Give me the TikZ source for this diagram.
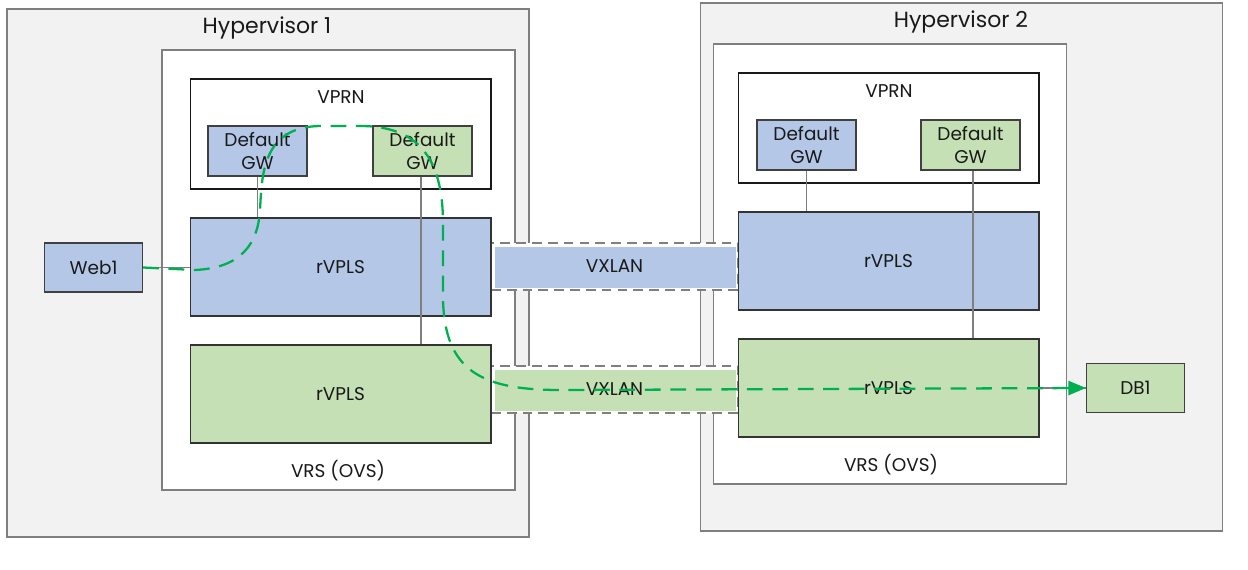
\documentclass[tikz,border=0pt]{standalone}
\usepackage{fontspec}
\setmainfont{Poppins}
\usetikzlibrary{arrows.meta}
\definecolor{hvgray}{HTML}{F2F2F2}
\definecolor{bordergray}{HTML}{7F7F7F}
\definecolor{vblue}{HTML}{B4C7E7}
\definecolor{vgreen}{HTML}{C5E0B4}
\definecolor{pathgreen}{HTML}{00B050}

\begin{document}
\begin{tikzpicture}[x=0.02cm,y=-0.02cm,>={Triangle[length=10pt,width=8pt]},
	every node/.style={font=\fontsize{10.5}{13.5}\selectfont,text=black!90},
	title/.style={font=\fontsize{12.5}{14}\selectfont},
	hv node/.style={draw=bordergray,fill=hvgray,line width=0.7pt,minimum width=10.44cm,minimum height=10.56cm,inner sep=0pt},
	vrs node/.style={draw=bordergray,fill=white,line width=0.7pt,minimum width=7.06cm,minimum height=8.8cm,inner sep=0pt},
	vprn node/.style={draw=black!90,fill=white,line width=0.6pt,minimum width=6.02cm,minimum height=2.2cm,inner sep=0pt},
	gw node/.style={draw=black!75,line width=0.6pt,minimum width=1.98cm,minimum height=1cm,inner sep=0pt,align=center},
	vpls node/.style={draw=black!80,line width=0.6pt,minimum width=6.02cm,minimum height=1.96cm,inner sep=0pt},
	vm node/.style={draw=black!75,line width=0.6pt,minimum width=1.96cm,minimum height=0.98cm,inner sep=0pt},
	tunnel/.style={draw=bordergray,fill=white,line width=0.7pt,dash pattern=on 5.5pt off 3.5pt,
		minimum width=4.94cm,minimum height=0.94cm,inner sep=0pt,
		path picture={\fill[#1] ([shift={(0.08cm,0.04cm)}]path picture bounding box.south west)
			rectangle ([shift={(-0.04cm,-0.08cm)}]path picture bounding box.north east);}},
	link/.style={draw=bordergray,line width=0.9pt},
	flow/.style={draw=pathgreen,line width=1.3pt,dash pattern=on 9pt off 5.5pt}]

	\useasboundingbox (0,0) rectangle (1248,570);

	\node[hv node] (hv1) at (268,273) {};
	\node[hv node] (hv2) at (961.5,267) {};
	\node[title] (hv1 title) at (267,28) {Hypervisor 1};
	\node[title] (hv2 title) at (961,22) {Hypervisor 2};

	\node[vrs node] (vrs1) at (338.5,270) {};
	\node[vrs node] (vrs2) at (890,264) {};
	\node (vrs1 label) at (338,471) {VRS (OVS)};
	\node (vrs2 label) at (891,465) {VRS (OVS)};

	\node[vprn node] (vprn1) at (340.5,134) {};
	\node[vprn node] (vprn2) at (888.5,128) {};
	\node (vprn1 label) at (341,97) {VPRN};
	\node (vprn2 label) at (889,91) {VPRN};

	\node[gw node,fill=vblue] (gwb1) at (257.5,151) {Default\\GW};
	\node[gw node,fill=vgreen] (gwg1) at (422.5,151) {Default\\GW};
	\node[gw node,fill=vblue] (gwb2) at (806.5,145) {Default\\GW};
	\node[gw node,fill=vgreen] (gwg2) at (970.5,145) {Default\\GW};

	\node[tunnel=vblue] (vxb) at (614.5,266.5) {VXLAN};
	\node[tunnel=vgreen] (vxg) at (614.5,389.5) {VXLAN};

	\node[vpls node,fill=vblue] (rvb1) at (340.5,267) {rVPLS};
	\node[vpls node,fill=vgreen] (rvg1) at (340.5,394) {rVPLS};
	\node[vpls node,fill=vblue] (rvb2) at (888.5,261) {rVPLS};
	\node[vpls node,fill=vgreen] (rvg2) at (888.5,388) {rVPLS};

	\node[vm node,fill=vblue] (web1) at (93.5,267.5) {Web1};
	\node[vm node,fill=vgreen] (db1) at (1135.5,388) {DB1};

	\path[link] (web1.east) -- (rvb1.west |- web1.east)
		(gwb1.south) -- (gwb1.south |- rvb1.north)
		([xshift=-0.03cm]gwg1.south) -- ([xshift=-0.03cm]gwg1.south |- rvg1.north)
		(gwb2.south) -- (gwb2.south |- rvb2.north)
		([xshift=0.05cm]gwg2.south) -- ([xshift=0.05cm]gwg2.south |- rvg2.north)
		(rvg2.east) -- (db1.west -| rvg2.east) -- (db1.west);

	\draw[flow,->] (web1.east) -- (195,270) .. controls (240,268) and (258,245) .. (260,210)
		.. controls (262,175) and (262,127) .. (320,126) -- (360,126)
		.. controls (420,126) and (442,160) .. (443,220) -- (443,300)
		.. controls (445,370) and (480,390) .. (560,390) -- (db1.west);
\end{tikzpicture}
\end{document}
